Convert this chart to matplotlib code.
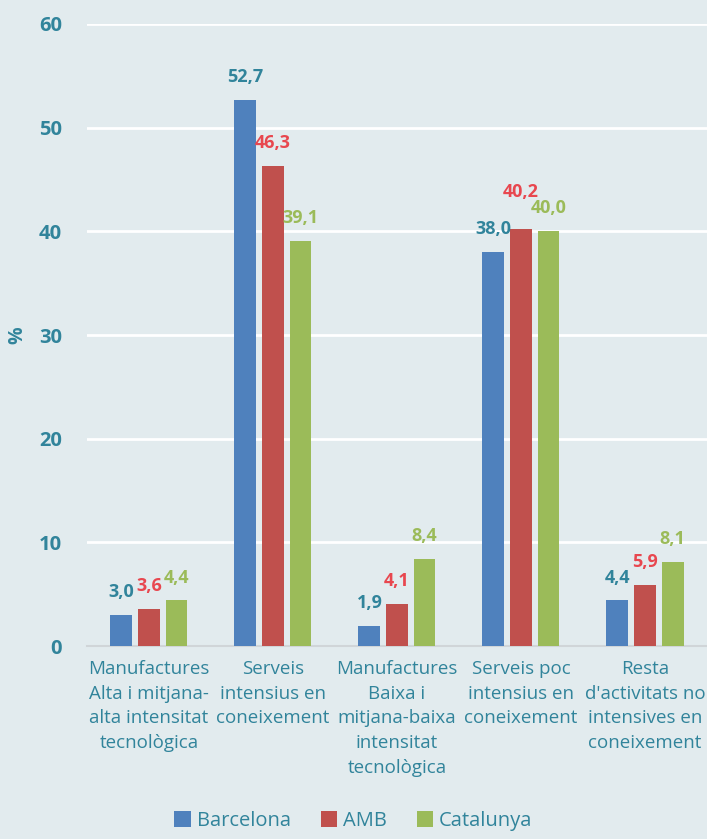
import matplotlib.pyplot as plt
import numpy as np

categories = ["Manufactures\nAlta i mitjana-\nalta intensitat\ntecnològica",
              "Serveis\nintensius en\nconeixement",
              "Manufactures\nBaixa i\nmitjana-baixa\nintensitat\ntecnològica",
              "Serveis poc\nintensius en\nconeixement",
              "Resta\nd'activitats no\nintensives en\nconeixement"]
series = ["Barcelona", "AMB", "Catalunya"]
barcelona = [3.0, 52.7, 1.9, 38.0, 4.4]
amb = [3.6, 46.3, 4.1, 40.2, 5.9]
catalunya = [4.4, 39.1, 8.4, 40.0, 8.1]

bar_colors = ["#4F81BD", "#C0504D", "#9BBB59"]
label_colors = ["#31849B", "#E8474F", "#9BBB59"]
teal = "#31849B"
bg = "#E2EBEE"

plt.rcParams['font.family'] = ['Open Sans', 'DejaVu Sans']

fig = plt.figure(figsize=(7.07, 8.39), dpi=100, facecolor=bg)
ax = fig.add_axes([0.123, 0.23, 0.877, 0.7414])
ax.set_facecolor(bg)

x = np.arange(len(categories))
w = 0.177
pitch = 0.222
for i, (name, vals) in enumerate(zip(series, [barcelona, amb, catalunya])):
    pos = x + (i - 1) * pitch
    ax.bar(pos, vals, width=w, color=bar_colors[i], label=name, zorder=3)
    for j, (p, v) in enumerate(zip(pos, vals)):
        dy = 10
        if j == 3 and i == 1:
            dy = 20  # lift the AMB label so it clears its neighbour
        ax.annotate(f"{v:.1f}".replace(".", ","), (p, v), xytext=(0, dy),
                    textcoords="offset points", ha="center", va="bottom",
                    color=label_colors[i], fontsize=13, fontweight="bold", zorder=4)

ax.set_xlim(-0.5, 4.5)
ax.set_ylim(0, 60)
ax.set_yticks(range(0, 61, 10))
ax.yaxis.grid(True, color="white", linewidth=2, zorder=0)
ax.set_axisbelow(True)
for s in ["top", "right", "left"]:
    ax.spines[s].set_visible(False)
ax.spines["bottom"].set_color("#D0D5D8")
ax.spines["bottom"].set_linewidth(1.5)
ax.tick_params(axis="both", length=0)
ax.tick_params(axis="y", pad=18, labelsize=14.5, labelcolor=teal)
for t in ax.get_yticklabels():
    t.set_fontweight("bold")
ax.set_xticks(x)
ax.set_xticklabels(categories, fontsize=13.5, color=teal, linespacing=1.48)
ax.tick_params(axis="x", pad=10)
ax.set_ylabel("%", fontsize=14, fontweight="bold", color=teal, labelpad=8)

fig.legend(loc="lower center", bbox_to_anchor=(0.5, -0.012), ncol=3, frameon=False,
           fontsize=14.5, handlelength=0.8, handleheight=0.8, handletextpad=0.3,
           columnspacing=1.5, labelcolor=teal)

fig.savefig("out.png", dpi=100, facecolor=bg)
